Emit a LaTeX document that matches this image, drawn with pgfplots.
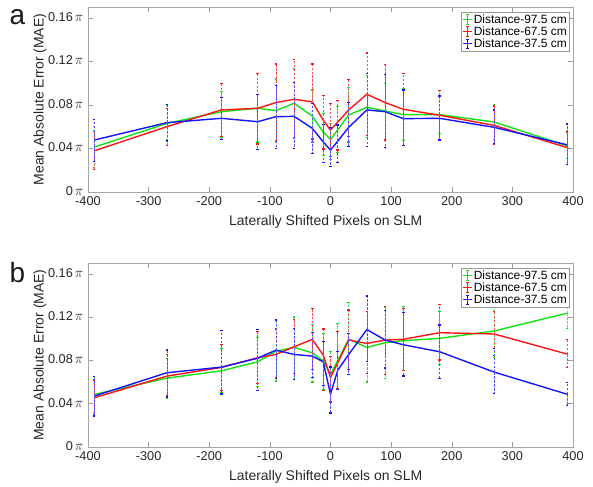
\documentclass[border=0pt]{standalone}
\usepackage{fontspec}
\setmainfont{Liberation Sans}
\usepackage{pgfplots}
\usepackage{pgfplotstable}
\pgfplotsset{compat=1.18}
\definecolor{gcol}{RGB}{20,225,20}
\definecolor{rcol}{RGB}{250,20,20}
\definecolor{bcol}{RGB}{20,20,250}

% top panel (a): x, mean, top of error bar, bottom of error bar
\pgfplotstableread{
x y t b
-390 0.0412 0.0600 0.0225
-270 0.0630 0.0794 0.0477
-180 0.0738 0.0923 0.0500
-120 0.0770 0.1090 0.0460
-90 0.0748 0.1037 0.0460
-60 0.0815 0.1130 0.0490
-30 0.0698 0.0938 0.0460
-12 0.0550 0.0723 0.0338
0 0.0483 0.0630 0.0300
12 0.0572 0.0785 0.0360
30 0.0708 0.0960 0.0460
60 0.0778 0.1070 0.0500
90 0.0745 0.1000 0.0470
120 0.0711 0.0948 0.0474
180 0.0711 0.0886 0.0538
270 0.0643 0.0803 0.0483
390 0.0425 0.0563 0.0305
}\tga
\pgfplotstableread{
x y t b
-390 0.0378 0.0554 0.0206
-270 0.0600 0.0770 0.0428
-180 0.0754 0.0994 0.0508
-120 0.0769 0.1090 0.0440
-90 0.0822 0.1175 0.0470
-60 0.0852 0.1215 0.0500
-30 0.0828 0.1175 0.0486
-12 0.0660 0.0886 0.0394
0 0.0569 0.0815 0.0323
12 0.0643 0.0840 0.0385
30 0.0754 0.1034 0.0508
60 0.0898 0.1277 0.0517
90 0.0822 0.1170 0.0477
120 0.0760 0.1090 0.0425
180 0.0705 0.0932 0.0483
270 0.0612 0.0790 0.0440
390 0.0409 0.0550 0.0252
}\tra
\pgfplotstableread{
x y t b
-390 0.0477 0.0668 0.0277
-270 0.0637 0.0806 0.0468
-180 0.0677 0.0870 0.0483
-120 0.0646 0.0898 0.0390
-90 0.0692 0.0980 0.0400
-60 0.0695 0.1006 0.0400
-30 0.0585 0.0815 0.0354
-12 0.0460 0.0620 0.0268
0 0.0385 0.0594 0.0237
12 0.0468 0.0615 0.0268
30 0.0594 0.0822 0.0415
60 0.0754 0.1090 0.0420
90 0.0738 0.1077 0.0406
120 0.0674 0.0938 0.0425
180 0.0677 0.0883 0.0477
270 0.0594 0.0754 0.0446
390 0.0434 0.0625 0.0252
}\tba
% bottom panel (b)
\pgfplotstableread{
x y t b
-390 0.0485 0.0650 0.0318
-270 0.0636 0.0820 0.0450
-180 0.0704 0.0910 0.0503
-120 0.0787 0.1010 0.0560
-90 0.0886 0.1173 0.0610
-60 0.0920 0.1200 0.0623
-30 0.0870 0.1130 0.0600
-12 0.0796 0.1050 0.0530
0 0.0673 0.0880 0.0410
12 0.0800 0.1140 0.0530
30 0.0997 0.1333 0.0670
60 0.0920 0.1250 0.0600
90 0.0963 0.1290 0.0633
120 0.0982 0.1297 0.0658
180 0.1004 0.1250 0.0763
270 0.1072 0.1320 0.0830
390 0.1236 0.1380 0.1093
}\tgb
\pgfplotstableread{
x y t b
-390 0.0454 0.0618 0.0300
-270 0.0655 0.0856 0.0473
-180 0.0735 0.0950 0.0520
-120 0.0825 0.1065 0.0586
-90 0.0855 0.1090 0.0642
-60 0.0926 0.1180 0.0679
-30 0.0994 0.1280 0.0716
-12 0.0849 0.1090 0.0525
0 0.0642 0.0833 0.0417
12 0.0778 0.1065 0.0540
30 0.0988 0.1265 0.0716
60 0.0957 0.1250 0.0679
90 0.0988 0.1300 0.0673
120 0.0995 0.1280 0.0710
180 0.1056 0.1319 0.0803
270 0.1044 0.1250 0.0843
390 0.0859 0.0995 0.0732
}\trb
\pgfplotstableread{
x y t b
-390 0.0470 0.0649 0.0287
-270 0.0686 0.0896 0.0463
-180 0.0738 0.1078 0.0490
-120 0.0820 0.1086 0.0520
-90 0.0895 0.1173 0.0633
-60 0.0855 0.1096 0.0623
-30 0.0840 0.1060 0.0642
-12 0.0787 0.0972 0.0570
0 0.0488 0.0740 0.0315
12 0.0710 0.0880 0.0530
30 0.0855 0.1050 0.0670
60 0.1086 0.1395 0.0787
90 0.0988 0.1260 0.0731
120 0.0945 0.1245 0.0655
180 0.0880 0.1127 0.0633
270 0.0692 0.0908 0.0494
390 0.0488 0.0596 0.0383
}\tbb

\newcommand{\pI}{\,{\fontsize{15}{15}\selectfont$\pi$}}

\pgfplotsset{
  myaxis/.style={
    scale only axis, width=485bp,
    xmin=-400, xmax=400, ymin=0, ymax=0.17,
    xtick={-400,-300,-200,-100,0,100,200,300,400},
    ytick={0,0.04,0.08,0.12,0.16},
    yticklabels={0\pI,0.04\pI,0.08\pI,0.12\pI,0.16\pI},
    scaled y ticks=false,
    /pgf/number format/assume math mode=true,
    axis line style={black!35},
    tick style={black!40, line width=0.5pt},
    major tick length=5bp,
    tick align=inside,
    tick label style={font=\fontsize{12.8}{14}\selectfont, text=black!85},
    xlabel={Laterally Shifted Pixels on SLM},
    ylabel={Mean Absolute Error (MAE)},
    xlabel style={font=\fontsize{14}{16}\selectfont, text=black!85, at={(axis description cs:0.49,-0.162)}, anchor=center},
    ylabel style={font=\fontsize{14}{16}\selectfont, text=black!85, at={(axis description cs:-0.099,0.5)}, anchor=center},
    yticklabel style={xshift=-1bp, yshift=1bp},
    xticklabel style={yshift=-1bp},
    legend style={at={(rel axis cs:0.992,0.972)}, anchor=north east,
      font=\fontsize{12}{13.5}\selectfont, draw=black!40, line width=0.5pt,
      inner sep=1pt, row sep=0pt,
      nodes={inner xsep=1pt, inner ysep=1pt}},
    legend cell align=left,
  },
  ser/.style={color=#1, line width=1.4pt, mark=none,
    /pgfplots/error bars/y dir=both,
    /pgfplots/error bars/y explicit,
    /pgfplots/error bars/error bar style={#1!75, line width=0.6pt, dash pattern=on 2.5pt off 1.5pt},
    /pgfplots/error bars/error mark options={#1, rotate=90, mark size=1.3pt, line width=1.3pt, solid},
    /pgfplots/legend image code/.code={
      \draw[#1, line width=0.8pt] (0cm,0cm) -- (0.34cm,0cm);
      \draw[#1, line width=0.8pt] (0.17cm,-0.17cm) -- (0.17cm,0.17cm);
      \draw[#1, line width=0.8pt] (0.12cm,0.17cm) -- (0.22cm,0.17cm);
      \draw[#1, line width=0.8pt] (0.12cm,-0.17cm) -- (0.22cm,-0.17cm);
    }
  },
}

\begin{document}
\begin{tikzpicture}
\useasboundingbox (0,0) rectangle (593bp,487bp);

\begin{axis}[myaxis, height=185bp, at={(88bp,295bp)}, anchor=south west]
\addplot[ser=gcol] table[x=x, y=y, y error plus expr=\thisrow{t}-\thisrow{y}, y error minus expr=\thisrow{y}-\thisrow{b}] {\tga};
\addplot[ser=rcol] table[x=x, y=y, y error plus expr=\thisrow{t}-\thisrow{y}, y error minus expr=\thisrow{y}-\thisrow{b}] {\tra};
\addplot[ser=bcol] table[x=x, y=y, y error plus expr=\thisrow{t}-\thisrow{y}, y error minus expr=\thisrow{y}-\thisrow{b}] {\tba};
\legend{Distance-97.5 cm, Distance-67.5 cm, Distance-37.5 cm}
\end{axis}

\begin{axis}[myaxis, height=184bp, at={(88bp,40bp)}, anchor=south west]
\addplot[ser=gcol] table[x=x, y=y, y error plus expr=\thisrow{t}-\thisrow{y}, y error minus expr=\thisrow{y}-\thisrow{b}] {\tgb};
\addplot[ser=rcol] table[x=x, y=y, y error plus expr=\thisrow{t}-\thisrow{y}, y error minus expr=\thisrow{y}-\thisrow{b}] {\trb};
\addplot[ser=bcol] table[x=x, y=y, y error plus expr=\thisrow{t}-\thisrow{y}, y error minus expr=\thisrow{y}-\thisrow{b}] {\tbb};
\legend{Distance-97.5 cm, Distance-67.5 cm, Distance-37.5 cm}
\end{axis}

\node[font=\fontsize{28}{28}\selectfont, text=black!90, inner sep=0pt] at (17.5bp,470bp) {a};
\node[font=\fontsize{28}{28}\selectfont, text=black!90, inner sep=0pt] at (17.5bp,214bp) {b};
\end{tikzpicture}
\end{document}
